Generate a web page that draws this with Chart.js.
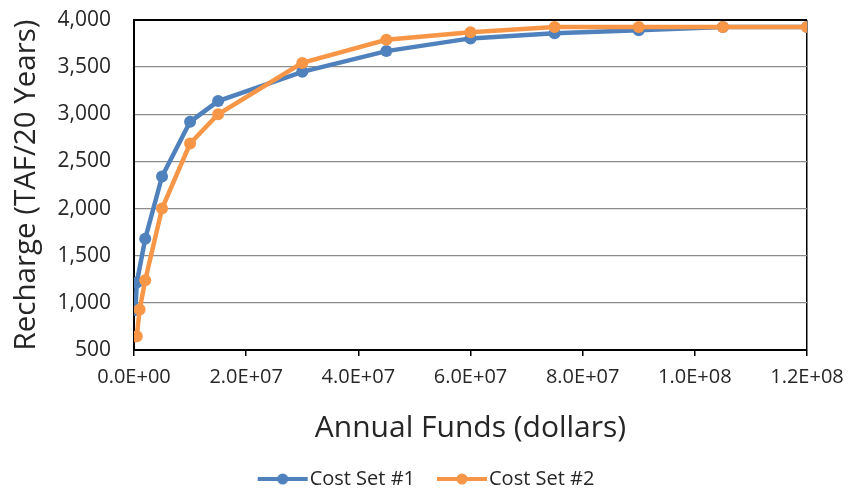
<!DOCTYPE html>
<html>
<head>
<meta charset="utf-8">
<script src="https://cdn.jsdelivr.net/npm/chart.js@4"></script>
<style>
  html, body { margin: 0; padding: 0; background: #fff; overflow: hidden; }
  #wrap { width: 859px; height: 499px; position: relative; }
</style>
</head>
<body>
<div id="wrap"><canvas id="c"></canvas></div>
<script>
// Data
const seriesNames = ["Cost Set #1", "Cost Set #2"];
const fundsSet1 = [250000, 500000, 2000000, 5000000, 10000000, 15000000, 30000000, 45000000, 60000000, 75000000, 90000000, 105000000, 120000000];
const rechargeSet1 = [925, 1215, 1680, 2340, 2920, 3140, 3450, 3670, 3805, 3860, 3890, 3925, 3925];
const fundsSet2 = [500000, 1000000, 2000000, 5000000, 10000000, 15000000, 30000000, 45000000, 60000000, 75000000, 90000000, 105000000, 120000000];
const rechargeSet2 = [645, 930, 1240, 2000, 2690, 3000, 3545, 3790, 3870, 3925, 3925, 3925, 3925];
const xTickValues = [0, 20000000, 40000000, 60000000, 80000000, 100000000, 120000000];
const yTickValues = [500, 1000, 1500, 2000, 2500, 3000, 3500, 4000];

const colors = ["#4F81BD", "#F79646"];
const FONT = "'Open Sans', 'Liberation Sans', sans-serif";
const TEXT = "#262626";

function sci(v) {
  if (v === 0) return "0.0E+00";
  const e = Math.floor(Math.log10(Math.abs(v)) + 1e-9);
  const m = v / Math.pow(10, e);
  return m.toFixed(1) + "E+" + String(e).padStart(2, "0");
}

function makeMarker(color) {
  const cv = document.createElement("canvas");
  cv.width = 62; cv.height = 14;
  const g = cv.getContext("2d");
  g.strokeStyle = color; g.lineWidth = 4; g.lineCap = "butt";
  g.beginPath(); g.moveTo(10, 7); g.lineTo(60, 7); g.stroke();
  g.fillStyle = color;
  g.beginPath(); g.arc(35, 7, 5.5, 0, Math.PI * 2); g.fill();
  return cv;
}
const markers = colors.map(makeMarker);

const toXY = (xs, ys) => xs.map((x, i) => ({ x: x, y: ys[i] }));

new Chart(document.getElementById("c"), {
  type: "line",
  data: {
    datasets: [
      { label: seriesNames[0], data: toXY(fundsSet1, rechargeSet1), borderColor: colors[0], backgroundColor: colors[0],
        borderWidth: 4.5, pointRadius: 6, pointBorderWidth: 0, pointBackgroundColor: colors[0], tension: 0, order: 2 },
      { label: seriesNames[1], data: toXY(fundsSet2, rechargeSet2), borderColor: colors[1], backgroundColor: colors[1],
        borderWidth: 4.5, pointRadius: 6, pointBorderWidth: 0, pointBackgroundColor: colors[1], tension: 0, order: 1 }
    ]
  },
  options: {
    responsive: true,
    maintainAspectRatio: false,
    animation: false,
    layout: { padding: { left: 45, right: 52, top: 20, bottom: 0 } },
    scales: {
      x: {
        type: "linear",
        min: 0, max: 120000000,
        afterBuildTicks: (s) => { s.ticks = xTickValues.map(v => ({ value: v })); },
        afterFit: (s) => { s.height = 97; },
        ticks: { callback: (v) => sci(v), color: TEXT, font: { family: FONT, size: 20 }, maxRotation: 0, padding: 9 },
        grid: {
          color: (ctx) => (ctx.tick && ctx.tick.value === 120000000) ? "#000" : "rgba(0,0,0,0)",
          lineWidth: 1.5,
          tickColor: "#000", tickLength: 6, drawTicks: true
        },
        border: { display: true, color: "#000", width: 2 },
        title: { display: true, text: "Annual Funds (dollars)", color: TEXT, font: { family: FONT, size: 30 }, padding: { top: 14, bottom: 1 } }
      },
      y: {
        min: 500, max: 4000,
        afterBuildTicks: (s) => { s.ticks = yTickValues.map(v => ({ value: v })); },
        afterFit: (s) => { s.width = 89; },
        ticks: { callback: (v) => v.toLocaleString("en-US"), color: TEXT, font: { family: FONT, size: 21 }, padding: 1 },
        grid: {
          color: (ctx) => (ctx.tick && ctx.tick.value === 4000) ? "#000" : "#8c8c8c",
          lineWidth: (ctx) => (ctx.tick && ctx.tick.value === 4000) ? 2 : 1.3,
          drawTicks: true, tickLength: 22, tickColor: "rgba(0,0,0,0)"
        },
        border: { display: true, color: "#000", width: 2 },
        title: { display: true, text: "Recharge (TAF/20 Years)", color: TEXT, font: { family: FONT, size: 29.5 }, padding: { top: -35.7, bottom: 0 } }
      }
    },
    plugins: {
      legend: {
        position: "bottom",
        labels: {
          color: TEXT,
          font: { family: FONT, size: 20 },
          usePointStyle: true,
          pointStyleWidth: 42,
          boxHeight: 14,
          padding: 22,
          generateLabels: (chart) => chart.data.datasets.map((ds, i) => ({
            text: ds.label, pointStyle: markers[i], fillStyle: colors[i], strokeStyle: colors[i],
            lineWidth: 0, hidden: false, datasetIndex: i, fontColor: TEXT
          }))
        }
      },
      tooltip: { enabled: false }
    }
  }
});
</script>
</body>
</html>
